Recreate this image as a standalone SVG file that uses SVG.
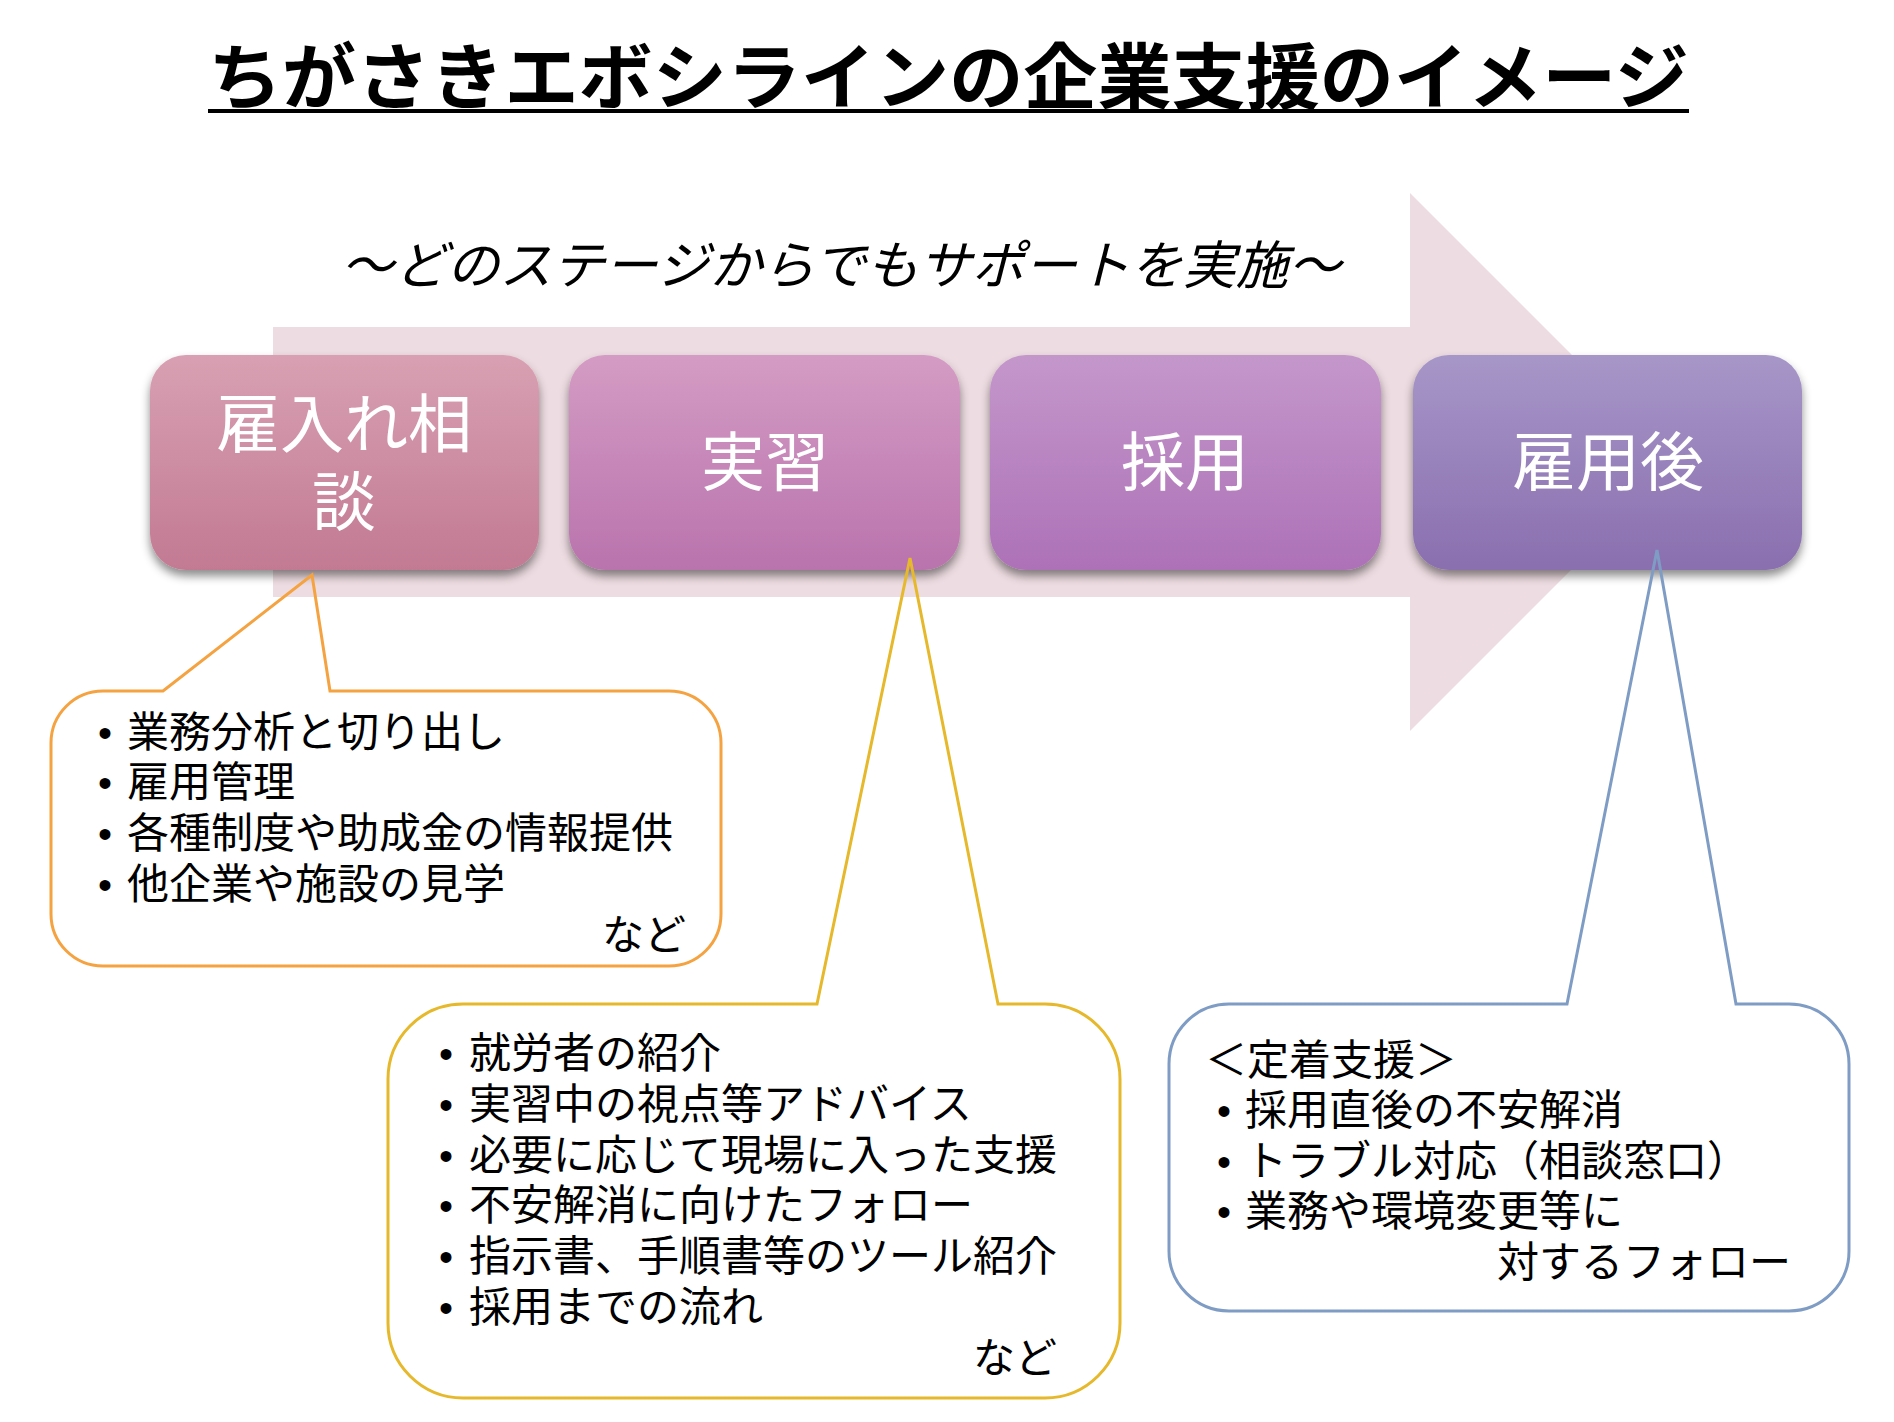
<svg xmlns="http://www.w3.org/2000/svg" width="1894" height="1422" viewBox="0 0 1894 1422">
<defs>
<style>
.title{font-family:"Noto Sans CJK JP","Noto Sans CJK SC",sans-serif;font-size:72px;font-weight:bold;fill:#000}
.sub{font-family:"Noto Sans CJK JP","Noto Sans CJK SC",sans-serif;font-size:52px;font-style:italic;fill:#000}
.stage{font-family:"Noto Sans CJK JP","Noto Sans CJK SC",sans-serif;font-size:64px;fill:#fff;text-anchor:middle}
.body{font-family:"Noto Sans CJK JP","Noto Sans CJK SC",sans-serif;font-size:42px;fill:#000}
.bul{font-family:"Liberation Sans",sans-serif;font-size:40px;text-anchor:middle}
.call{fill:none;stroke-width:3;stroke-linejoin:miter}
</style>
<linearGradient id="g1" x1="0" y1="0" x2="0" y2="1"><stop offset="0" stop-color="#D8A0B2"/><stop offset="1" stop-color="#C27A93"/></linearGradient>
<linearGradient id="g2" x1="0" y1="0" x2="0" y2="1"><stop offset="0" stop-color="#D49CC4"/><stop offset="1" stop-color="#B973AD"/></linearGradient>
<linearGradient id="g3" x1="0" y1="0" x2="0" y2="1"><stop offset="0" stop-color="#C497CB"/><stop offset="1" stop-color="#AD71B7"/></linearGradient>
<linearGradient id="g4" x1="0" y1="0" x2="0" y2="1"><stop offset="0" stop-color="#A796C8"/><stop offset="1" stop-color="#8A6FAF"/></linearGradient>
<filter id="sh" x="-10%" y="-10%" width="120%" height="130%"><feDropShadow dx="0" dy="6" stdDeviation="5" flood-color="#000" flood-opacity="0.45"/></filter>
</defs>

<g id="title">
<text class="title" x="208" y="103" textLength="1481" lengthAdjust="spacingAndGlyphs">ちがさきエボシラインの企業支援のイメージ</text>
<rect x="208" y="109" width="1481" height="4" fill="#000"/>
</g>

<g id="arrow">
<polygon points="273,327 1410,327 1410,193 1679,462 1410,731 1410,597 273,597" fill="#EDDCE1"/>
</g>

<g id="subtitle">
<text class="sub" x="341" y="284" textLength="1000" lengthAdjust="spacingAndGlyphs">～どのステージからでもサポートを実施～</text>
</g>

<g id="stage1">
<rect x="150" y="355" width="389" height="215" rx="36" fill="url(#g1)" filter="url(#sh)"/>
<text class="stage"><tspan x="344" y="447">雇入れ相</tspan><tspan x="344" y="525">談</tspan></text>
</g>
<g id="stage2">
<rect x="569" y="355" width="391" height="215" rx="36" fill="url(#g2)" filter="url(#sh)"/>
<text class="stage" x="765" y="485">実習</text>
</g>
<g id="stage3">
<rect x="990" y="355" width="391" height="215" rx="36" fill="url(#g3)" filter="url(#sh)"/>
<text class="stage" x="1185" y="485">採用</text>
</g>
<g id="stage4">
<rect x="1413" y="355" width="389" height="215" rx="36" fill="url(#g4)" filter="url(#sh)"/>
<text class="stage" x="1608" y="485">雇用後</text>
</g>

<g id="connectors">
<path class="call" stroke="#F5A241" d="M103,691 L163,691 L312,575 L330,691 L669,691 A52,52 0 0 1 721,743 L721,914 A52,52 0 0 1 669,966 L103,966 A52,52 0 0 1 51,914 L51,743 A52,52 0 0 1 103,691 Z"/>
<path class="call" stroke="#E6B82B" d="M463,1004 L817,1004 L910,558 L998,1004 L1045,1004 A75,75 0 0 1 1120,1079 L1120,1323 A75,75 0 0 1 1045,1398 L463,1398 A75,75 0 0 1 388,1323 L388,1079 A75,75 0 0 1 463,1004 Z"/>
<path class="call" stroke="#7F9CC5" d="M1229,1004 L1567,1004 L1657,550 L1736,1004 L1789,1004 A60,60 0 0 1 1849,1064 L1849,1251 A60,60 0 0 1 1789,1311 L1229,1311 A60,60 0 0 1 1169,1251 L1169,1064 A60,60 0 0 1 1229,1004 Z"/>
</g>

<g id="callout1">
<text class="body"><tspan class="bul" x="105" y="747">•</tspan><tspan x="127" y="747">業務分析と切り出し</tspan><tspan class="bul" x="105" y="797">•</tspan><tspan x="127" y="797">雇用管理</tspan><tspan class="bul" x="105" y="848">•</tspan><tspan x="127" y="848">各種制度や助成金の情報提供</tspan><tspan class="bul" x="105" y="899">•</tspan><tspan x="127" y="899">他企業や施設の見学</tspan><tspan x="686" y="950" text-anchor="end">など</tspan></text>
</g>

<g id="callout2">
<text class="body"><tspan class="bul" x="446" y="1068">•</tspan><tspan x="469" y="1068">就労者の紹介</tspan><tspan class="bul" x="446" y="1119">•</tspan><tspan x="469" y="1119">実習中の視点等アドバイス</tspan><tspan class="bul" x="446" y="1170">•</tspan><tspan x="469" y="1170">必要に応じて現場に入った支援</tspan><tspan class="bul" x="446" y="1220">•</tspan><tspan x="469" y="1220">不安解消に向けたフォロー</tspan><tspan class="bul" x="446" y="1271">•</tspan><tspan x="469" y="1271">指示書、手順書等のツール紹介</tspan><tspan class="bul" x="446" y="1322">•</tspan><tspan x="469" y="1322">採用までの流れ</tspan><tspan x="1057" y="1373" text-anchor="end">など</tspan></text>
</g>

<g id="callout3">
<text class="body"><tspan x="1205" y="1075">＜定着支援＞</tspan><tspan class="bul" x="1224" y="1125">•</tspan><tspan x="1245" y="1125">採用直後の不安解消</tspan><tspan class="bul" x="1224" y="1176">•</tspan><tspan x="1245" y="1176">トラブル対応（相談窓口）</tspan><tspan class="bul" x="1224" y="1226">•</tspan><tspan x="1245" y="1226">業務や環境変更等に</tspan><tspan x="1791" y="1277" text-anchor="end">対するフォロー</tspan></text>
</g>
</svg>
